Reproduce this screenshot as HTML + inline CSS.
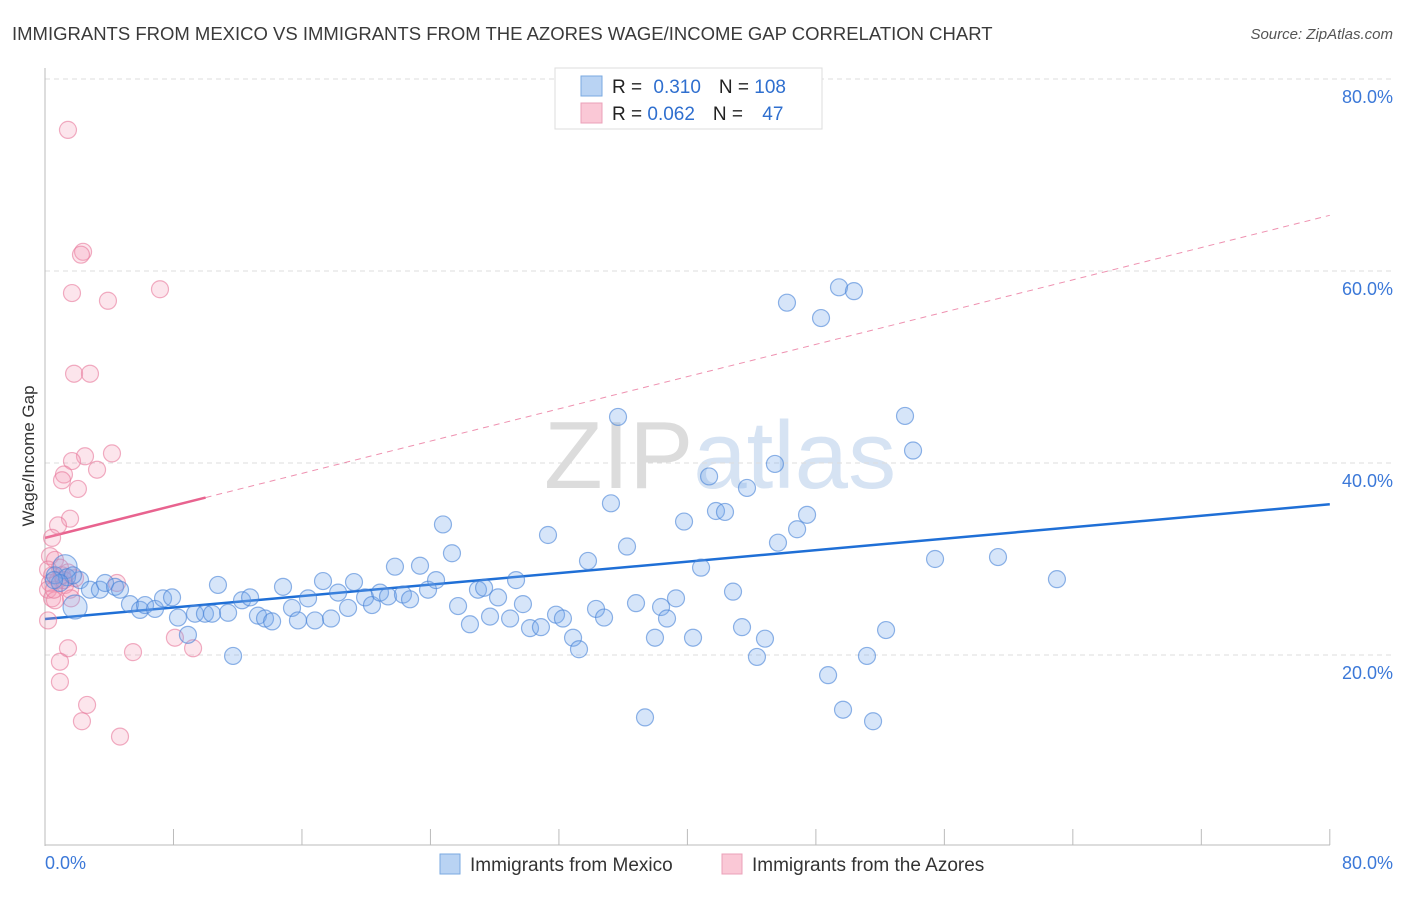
<!DOCTYPE html>
<html><head><meta charset="utf-8"><style>
body{margin:0;background:#fff;font-family:"Liberation Sans",sans-serif;}
svg text{font-family:"Liberation Sans",sans-serif;}
</style></head><body>
<svg id="chart" width="1406" height="892" viewBox="0 0 1406 892">
<text x="12" y="40" font-size="18.5" fill="#3a3a3a">IMMIGRANTS FROM MEXICO VS IMMIGRANTS FROM THE AZORES WAGE/INCOME GAP CORRELATION CHART</text>
<text x="1393" y="39" font-size="15" fill="#555" font-style="italic" text-anchor="end">Source: ZipAtlas.com</text>
<text x="720" y="488" font-size="96" fill="#e4e4e4" text-anchor="middle" font-family="Liberation Serif"><tspan fill="#dcdcdc">ZIP</tspan><tspan fill="#d6e3f3" font-family="Liberation Sans">atlas</tspan></text>
<g id="grid"></g>
<g id="axes"></g>
<text transform="translate(34,456) rotate(-90)" font-size="17" fill="#333" text-anchor="middle">Wage/Income Gap</text>
<g id="lines"></g>
<g id="pts"></g>
<g>
<rect x="555" y="68" width="267" height="61" fill="#fff" stroke="#ddd"/>
<rect x="581" y="76" width="21" height="20" fill="#b9d3f3" stroke="#7aaae0"/>
<rect x="581" y="103" width="21" height="20" fill="#fac8d6" stroke="#eba0b8"/>
<text x="612" y="93" font-size="19" fill="#222">R = <tspan fill="#2f6fcf" dx="6">0.310</tspan><tspan dx="18" fill="#222">N = </tspan><tspan fill="#2f6fcf">108</tspan></text>
<text x="612" y="120" font-size="19" fill="#222">R = <tspan fill="#2f6fcf">0.062</tspan><tspan dx="18" fill="#222">N = </tspan><tspan fill="#2f6fcf" dx="14">47</tspan></text>
</g>
<g>
<rect x="440" y="854" width="20" height="20" fill="#b9d3f3" stroke="#7aaae0"/>
<text x="470" y="871" font-size="19" fill="#333">Immigrants from Mexico</text>
<rect x="722" y="854" width="20" height="20" fill="#fac8d6" stroke="#eba0b8"/>
<text x="752" y="871" font-size="19" fill="#333">Immigrants from the Azores</text>
</g>
</svg>
<script>
const blueX=[0.62,1.25,1.87,2.18,2.80,3.42,3.74,4.36,4.67,5.29,5.92,6.23,6.85,7.35,7.91,8.28,8.90,9.34,9.96,10.40,10.77,11.40,11.71,12.27,12.77,13.26,13.70,14.14,14.82,15.38,15.75,16.38,16.81,17.31,17.81,18.25,18.87,19.24,19.93,20.36,20.86,21.36,21.79,22.29,22.73,23.35,23.85,24.35,24.78,25.34,25.72,26.46,26.96,27.34,27.71,28.21,28.96,29.33,29.76,30.20,30.88,31.32,31.82,32.25,32.88,33.25,33.81,34.31,34.81,35.24,35.68,36.24,36.80,37.36,37.98,38.36,38.73,39.29,39.79,40.35,40.85,41.35,41.78,42.34,42.84,43.40,43.71,44.33,44.83,45.45,45.64,46.20,46.83,47.45,48.32,48.76,49.44,49.69,50.37,51.18,51.56,52.37,53.55,54.05,55.42,59.34,63.01,1.37,1.74,0.93,0.56];
const blueY=[28.3,29.2,25.0,27.8,26.8,26.8,27.5,27.1,26.8,25.3,24.7,25.2,24.8,25.9,26.0,23.9,22.1,24.3,24.3,24.3,27.3,24.4,19.9,25.7,26.0,24.1,23.8,23.5,27.1,24.9,23.6,25.9,23.6,27.7,23.8,26.5,24.9,27.6,26.0,25.2,26.5,26.1,29.2,26.3,25.8,29.3,26.8,27.8,33.6,30.6,25.1,23.2,26.8,27.0,24.0,26.0,23.8,27.8,25.3,22.8,22.9,32.5,24.2,23.8,21.8,20.6,29.8,24.8,23.9,35.8,44.8,31.3,25.4,13.5,21.8,25.0,23.8,25.9,33.9,21.8,29.1,38.6,35.0,34.9,26.6,22.9,37.4,19.8,21.7,39.9,31.7,56.7,33.1,34.6,55.1,17.9,58.3,14.3,57.9,19.9,13.1,22.6,44.9,41.3,30.0,30.2,27.9,28.1,28.3,27.5,27.8];
const pinkX=[1.43,2.37,2.24,1.68,3.92,7.16,1.81,2.80,4.17,2.49,1.68,3.24,1.18,1.06,2.05,1.56,0.81,0.44,0.31,0.62,0.93,0.44,0.31,0.19,0.44,0.62,0.81,1.06,1.25,1.43,1.56,1.87,0.19,1.43,0.93,0.93,2.62,2.30,4.67,5.48,8.09,9.22,4.48,0.19,0.56,1.18,1.62];
const pinkY=[74.7,62.0,61.7,57.7,56.9,58.1,49.3,49.3,41.0,40.7,40.2,39.3,38.8,38.2,37.3,34.2,33.5,32.2,30.3,29.9,29.1,28.3,27.5,26.8,25.9,25.7,27.8,28.3,27.3,28.6,26.8,28.0,23.6,20.7,19.3,17.2,14.8,13.1,11.5,20.3,21.8,20.7,27.5,28.9,26.8,27.8,25.9];
const blueTrend=[23.75,35.7];      // value at x=0 and x=80
const pinkTrend=[32.2,65.8];       // value at x=0 and x=80
const pinkSolidEnd=10;
const yTicks=[20,40,60,80];
const yTickLabels=["20.0%","40.0%","60.0%","80.0%"];
const xTicks=[0,8,16,24,32,40,48,56,64,72,80];

const NS="http://www.w3.org/2000/svg";
const sx=v=>45+v*16.06, sy=v=>847-v*9.6;
function mk(tag,attrs,parent){const e=document.createElementNS(NS,tag);for(const k in attrs)e.setAttribute(k,attrs[k]);parent.appendChild(e);return e;}
const grid=document.getElementById('grid'),axes=document.getElementById('axes'),lines=document.getElementById('lines'),pts=document.getElementById('pts');
yTicks.forEach((t,i)=>{
  const g=mk('line',{x1:45,x2:1393,y1:sy(t),y2:sy(t),stroke:'#ddd','stroke-dasharray':'5,4'},grid);
  
  
  const l=mk('text',{x:1393,y:sy(t)+24,'font-size':18,fill:'#3b78d8','text-anchor':'end'},grid);
  
  
  l.textContent=yTickLabels[i];
});
const ya=mk('line',{x1:45,x2:45,y1:68,y2:846,stroke:'#bbb'},axes);


const xa=mk('line',{x1:45,x2:1330,y1:845,y2:845,stroke:'#bbb'},axes);


xTicks.forEach(t=>{
  const k=mk('line',{x1:sx(t),x2:sx(t),y1:829,y2:845,stroke:'#bbb'},axes);
  
  
});
const x0=mk('text',{x:45,y:869,'font-size':18,fill:'#3b78d8'},axes);


x0.textContent='0.0%';
const x1=mk('text',{x:1393,y:869,'font-size':18,fill:'#3b78d8','text-anchor':'end'},axes);


x1.textContent='80.0%';

const pv=x=>pinkTrend[0]+(pinkTrend[1]-pinkTrend[0])*x/80;
const pd=mk('line',{x1:sx(pinkSolidEnd),y1:sy(pv(pinkSolidEnd)),x2:sx(80),y2:sy(pinkTrend[1]),stroke:'#e8638f','stroke-width':1,'stroke-dasharray':'6,5',opacity:0.7},lines);



pinkX.forEach((x,i)=>{
  const c=mk('circle',{cx:sx(x),cy:sy(pinkY[i]),r:8.5,fill:'rgba(244,150,180,0.25)',stroke:'rgba(232,120,155,0.6)','stroke-width':1.2},pts);
  
  
});
blueX.forEach((x,i)=>{
  const c=mk('circle',{cx:sx(x),cy:sy(blueY[i]),r:(i===1||i===2)?12:8.5,fill:'rgba(120,170,235,0.3)',stroke:'rgba(70,130,215,0.6)','stroke-width':1.2},pts);
  
  
});
const bl=mk('line',{x1:sx(0),y1:sy(blueTrend[0]),x2:sx(80),y2:sy(blueTrend[1]),stroke:'#1f6fd6','stroke-width':2.5},lines);


const ps=mk('line',{x1:sx(0),y1:sy(pinkTrend[0]),x2:sx(pinkSolidEnd),y2:sy(pv(pinkSolidEnd)),stroke:'#e8638f','stroke-width':2.5},lines);


</script>
</body></html>
